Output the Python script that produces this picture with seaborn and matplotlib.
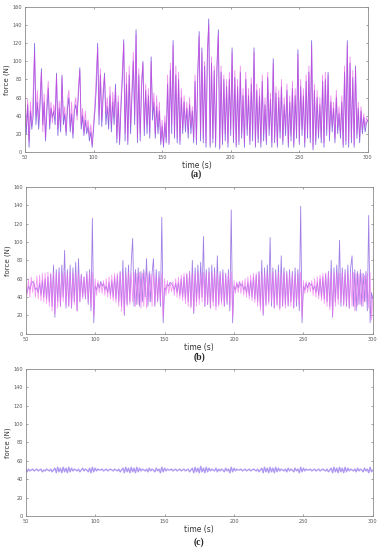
# Force tracking comparison, three cases (a), (b), (c)
import numpy as np
import matplotlib
matplotlib.use("Agg")
import matplotlib.pyplot as plt
import seaborn as sns

sns.set_theme(style="ticks")
plt.rcParams['font.family'] = ['DejaVu Sans']

# time axis, 1 s sampling from 50 s to 300 s
time_s = np.arange(50, 301)

# panel (a): magenta and blue force traces (N)
a_mag = [62, 28, 58, 12, 55, 30, 66, 110, 40, 68,
         35, 60, 88, 22, 64, 15, 58, 78, 30, 55,
         32, 52, 40, 84, 25, 56, 30, 82, 38, 50,
         22, 58, 68, 28, 55, 20, 50, 60, 35, 72,
         90, 30, 48, 22, 45, 25, 35, 18, 30, 8,
         30, 55, 85, 115, 40, 92, 35, 70, 84, 42,
         60, 35, 72, 30, 66, 40, 70, 15, 62, 12,
         58, 90, 120, 20, 88, 12, 95, 30, 70, 110,
         40, 130, 15, 92, 20, 80, 98, 25, 75, 30,
         70, 22, 100, 45, 65, 20, 62, 28, 55, 12,
         35, 8, 40, 15, 85, 10, 98, 30, 118, 20,
         95, 15, 88, 12, 70, 25, 62, 30, 55, 22,
         60, 28, 50, 15, 85, 12, 90, 128, 20, 110,
         15, 100, 10, 112, 140, 8, 105, 15, 95, 10,
         100, 130, 5, 95, 12, 85, 20, 80, 10, 88,
         25, 110, 15, 90, 8, 80, 12, 95, 20, 70,
         10, 88, 25, 70, 12, 82, 20, 110, 8, 75,
         15, 70, 10, 85, 20, 60, 12, 88, 25, 65,
         10, 98, 15, 72, 8, 68, 22, 80, 12, 60,
         25, 75, 10, 62, 18, 78, 8, 70, 20, 108,
         12, 80, 25, 70, 10, 85, 20, 95, 15, 118,
         5, 75, 12, 68, 20, 60, 15, 85, 10, 88,
         25, 85, 18, 62, 30, 55, 15, 68, 28, 50,
         20, 62, 8, 95, 12, 118, 10, 105, 15, 90,
         8, 92, 20, 55, 15, 50, 25, 42, 28, 38,
         33]
a_blue = [48, 20, 52, 5, 45, 25, 40, 120, 30, 55,
          25, 50, 92, 30, 55, 12, 45, 70, 25, 48,
          38, 45, 30, 87, 18, 48, 22, 85, 30, 42,
          18, 48, 60, 22, 42, 15, 45, 52, 40, 65,
          93, 25, 40, 18, 35, 20, 28, 12, 22, 5,
          25, 45, 70, 120, 30, 85, 28, 60, 87, 30,
          50, 25, 62, 22, 55, 30, 75, 10, 55, 8,
          48, 80, 124, 12, 75, 8, 85, 20, 60, 100,
          30, 135, 10, 85, 12, 70, 100, 18, 68, 20,
          62, 15, 105, 35, 55, 15, 50, 20, 45, 8,
          28, 5, 32, 10, 75, 8, 90, 20, 123, 15,
          85, 10, 80, 8, 60, 20, 55, 22, 48, 15,
          52, 20, 45, 10, 78, 8, 85, 133, 12, 115,
          10, 95, 5, 105, 147, 5, 98, 10, 90, 5,
          92, 135, 3, 88, 8, 80, 12, 72, 5, 80,
          18, 115, 10, 82, 5, 72, 8, 88, 15, 62,
          5, 80, 18, 62, 8, 75, 12, 115, 5, 68,
          10, 62, 5, 78, 12, 52, 8, 82, 18, 58,
          5, 103, 10, 65, 5, 60, 15, 72, 8, 52,
          18, 68, 5, 55, 12, 70, 5, 62, 15, 113,
          8, 72, 18, 62, 5, 78, 15, 88, 10, 123,
          2, 68, 8, 60, 15, 52, 10, 78, 5, 80,
          18, 88, 12, 55, 22, 48, 10, 60, 20, 42,
          15, 55, 5, 88, 8, 123, 5, 98, 10, 82,
          5, 95, 15, 48, 10, 45, 20, 38, 22, 32,
          35]

# panel (b)
b_mag = [58, 42, 60, 40, 62, 45, 58, 40, 63, 38,
         64, 36, 66, 35, 66, 33, 67, 30, 66, 25,
         67, 22, 66, 28, 67, 30, 66, 35, 67, 32,
         66, 30, 67, 28, 66, 32, 67, 25, 66, 35,
         64, 38, 62, 40, 65, 35, 66, 30, 67, 20,
         60, 42, 58, 45, 56, 44, 58, 42, 60, 40,
         62, 38, 64, 36, 66, 34, 66, 30, 67, 25,
         66, 22, 66, 30, 67, 32, 66, 35, 67, 30,
         66, 32, 67, 28, 66, 30, 67, 28, 66, 35,
         65, 30, 66, 32, 64, 36, 62, 35, 66, 18,
         60, 42, 58, 44, 56, 46, 57, 42, 60, 40,
         62, 38, 64, 36, 66, 33, 66, 30, 67, 28,
         66, 24, 66, 30, 67, 32, 66, 35, 67, 30,
         66, 32, 67, 28, 66, 30, 67, 26, 66, 30,
         65, 32, 66, 30, 64, 35, 66, 30, 67, 18,
         58, 44, 57, 45, 56, 44, 58, 42, 60, 40,
         62, 38, 64, 36, 66, 34, 66, 30, 67, 25,
         66, 22, 66, 30, 67, 32, 66, 35, 67, 28,
         66, 30, 67, 26, 66, 30, 67, 28, 66, 32,
         65, 30, 66, 28, 64, 35, 66, 30, 67, 18,
         58, 44, 57, 45, 56, 46, 58, 42, 60, 40,
         62, 38, 64, 36, 66, 33, 66, 30, 67, 26,
         66, 20, 66, 30, 67, 32, 66, 35, 67, 30,
         66, 32, 67, 28, 66, 30, 67, 25, 66, 30,
         65, 32, 66, 30, 64, 35, 66, 28, 67, 15,
         40]
b_blue = [50, 45, 52, 48, 55, 57, 54, 48, 50, 45,
          55, 42, 58, 40, 60, 38, 62, 35, 65, 30,
          75, 18, 70, 35, 72, 30, 75, 40, 91, 28,
          70, 30, 75, 28, 72, 35, 78, 25, 82, 35,
          65, 40, 62, 38, 68, 32, 70, 25, 126, 12,
          52, 48, 55, 50, 57, 52, 55, 48, 52, 45,
          56, 42, 58, 40, 62, 38, 64, 35, 68, 30,
          80, 20, 72, 32, 75, 35, 78, 104, 30, 70,
          32, 72, 30, 68, 35, 70, 40, 82, 30, 68,
          35, 66, 82, 30, 70, 35, 68, 30, 127, 12,
          50, 48, 54, 52, 56, 55, 52, 48, 55, 45,
          56, 42, 60, 40, 62, 38, 65, 35, 68, 30,
          80, 22, 72, 35, 75, 38, 78, 40, 106, 30,
          70, 32, 72, 28, 75, 35, 72, 30, 85, 32,
          68, 35, 70, 30, 66, 32, 70, 25, 135, 12,
          52, 48, 55, 50, 57, 52, 54, 48, 52, 45,
          56, 42, 58, 40, 62, 38, 64, 35, 68, 30,
          80, 20, 72, 32, 75, 35, 105, 30, 72, 28,
          70, 32, 75, 28, 85, 30, 72, 32, 68, 30,
          70, 35, 68, 28, 72, 30, 70, 25, 139, 12,
          52, 48, 55, 50, 56, 53, 54, 48, 52, 45,
          56, 42, 60, 40, 62, 38, 65, 35, 68, 30,
          80, 18, 72, 35, 75, 38, 102, 30, 72, 32,
          70, 30, 75, 28, 72, 85, 30, 70, 25, 68,
          32, 70, 30, 66, 35, 68, 25, 129, 12, 45,
          38]

# panel (c)
c_vals = [52, 48, 51, 49, 50, 51, 49, 50, 51, 49,
          50, 51, 48, 50, 49, 51, 50, 49, 51, 48,
          50, 52, 47, 53, 48, 52, 47, 53, 48, 52,
          47, 53, 48, 52, 49, 51, 50, 49, 51, 48,
          50, 52, 49, 51, 50, 48, 52, 47, 53, 48,
          52, 49, 51, 50, 50, 51, 49, 50, 51, 49,
          50, 51, 50, 49, 51, 50, 49, 51, 48, 50,
          52, 47, 53, 48, 52, 47, 53, 48, 52, 47,
          53, 48, 52, 49, 51, 50, 49, 51, 48, 52,
          49, 51, 50, 48, 52, 49, 51, 47, 53, 48,
          52, 49, 51, 50, 50, 51, 49, 50, 51, 49,
          50, 51, 49, 50, 51, 49, 50, 51, 48, 50,
          52, 47, 53, 48, 52, 47, 54, 48, 52, 47,
          53, 48, 52, 49, 51, 50, 49, 52, 48, 51,
          49, 51, 50, 48, 52, 49, 51, 47, 53, 48,
          52, 49, 51, 50, 50, 51, 49, 50, 51, 49,
          50, 51, 49, 50, 51, 50, 49, 51, 48, 50,
          52, 47, 53, 48, 52, 47, 53, 48, 52, 47,
          53, 48, 52, 49, 51, 50, 49, 51, 48, 52,
          49, 51, 50, 48, 52, 49, 51, 47, 53, 48,
          52, 49, 51, 50, 50, 51, 49, 50, 51, 49,
          50, 51, 49, 50, 51, 50, 49, 51, 48, 50,
          52, 47, 53, 48, 52, 47, 53, 48, 52, 47,
          53, 48, 52, 49, 51, 50, 49, 51, 48, 52,
          49, 51, 50, 48, 52, 49, 51, 47, 53, 48,
          50]

x_ticks = [50, 100, 150, 200, 250, 300]
y_ticks = [0, 20, 40, 60, 80, 100, 120, 140, 160]
panel_tags = ['(a)', '(b)', '(c)']

fig = plt.figure(figsize=(3.84, 5.5), dpi=100)
# axes boxes in figure fractions: left, bottom, width, height
boxes = [[0.065, 0.724, 0.893, 0.263],
         [0.067, 0.393, 0.904, 0.267],
         [0.067, 0.062, 0.904, 0.267]]
tag_y = [0.683, 0.350, 0.015]

# blue drawn first, magenta on top; last item is line width
series = [[(a_blue, '#7450dc', 0.85, 0.6), (a_mag, '#e040e0', 0.6, 0.6)],
          [(b_blue, '#8a5fe0', 0.8, 0.6), (b_mag, '#f070f0', 0.7, 0.6)],
          [(c_vals, '#a88ef0', 0.9, 1.0)]]

for i, box in enumerate(boxes):
    ax = fig.add_axes(box)
    for vals, col, al, lw in series[i]:
        sns.lineplot(x=time_s, y=vals, ax=ax, color=col, lw=lw,
                     alpha=al, estimator=None)
    ax.set_xlim(50, 300)
    ax.set_ylim(0, 160)
    ax.set_xticks(x_ticks)
    ax.set_yticks(y_ticks)
    ax.tick_params(axis='both', direction='in', length=1.5, width=0.4,
                   labelsize=3.6, pad=2, colors='#555555', top=True, right=True)
    for sp in ax.spines.values():
        sp.set_color('#8a8a8a')
        sp.set_linewidth(0.6)
    ax.set_xlabel('time (s)', fontsize=5.5, labelpad=1, color='#333333')
    ax.set_ylabel('force (N)', fontsize=5, labelpad=2, color='#333333')
    fig.text(box[0] + box[2] / 2, tag_y[i], panel_tags[i], ha='center',
             va='center', fontsize=7,
             family=['Liberation Serif', 'DejaVu Serif'], fontweight='bold')

plt.savefig('out.png', dpi=100)
plt.close()
